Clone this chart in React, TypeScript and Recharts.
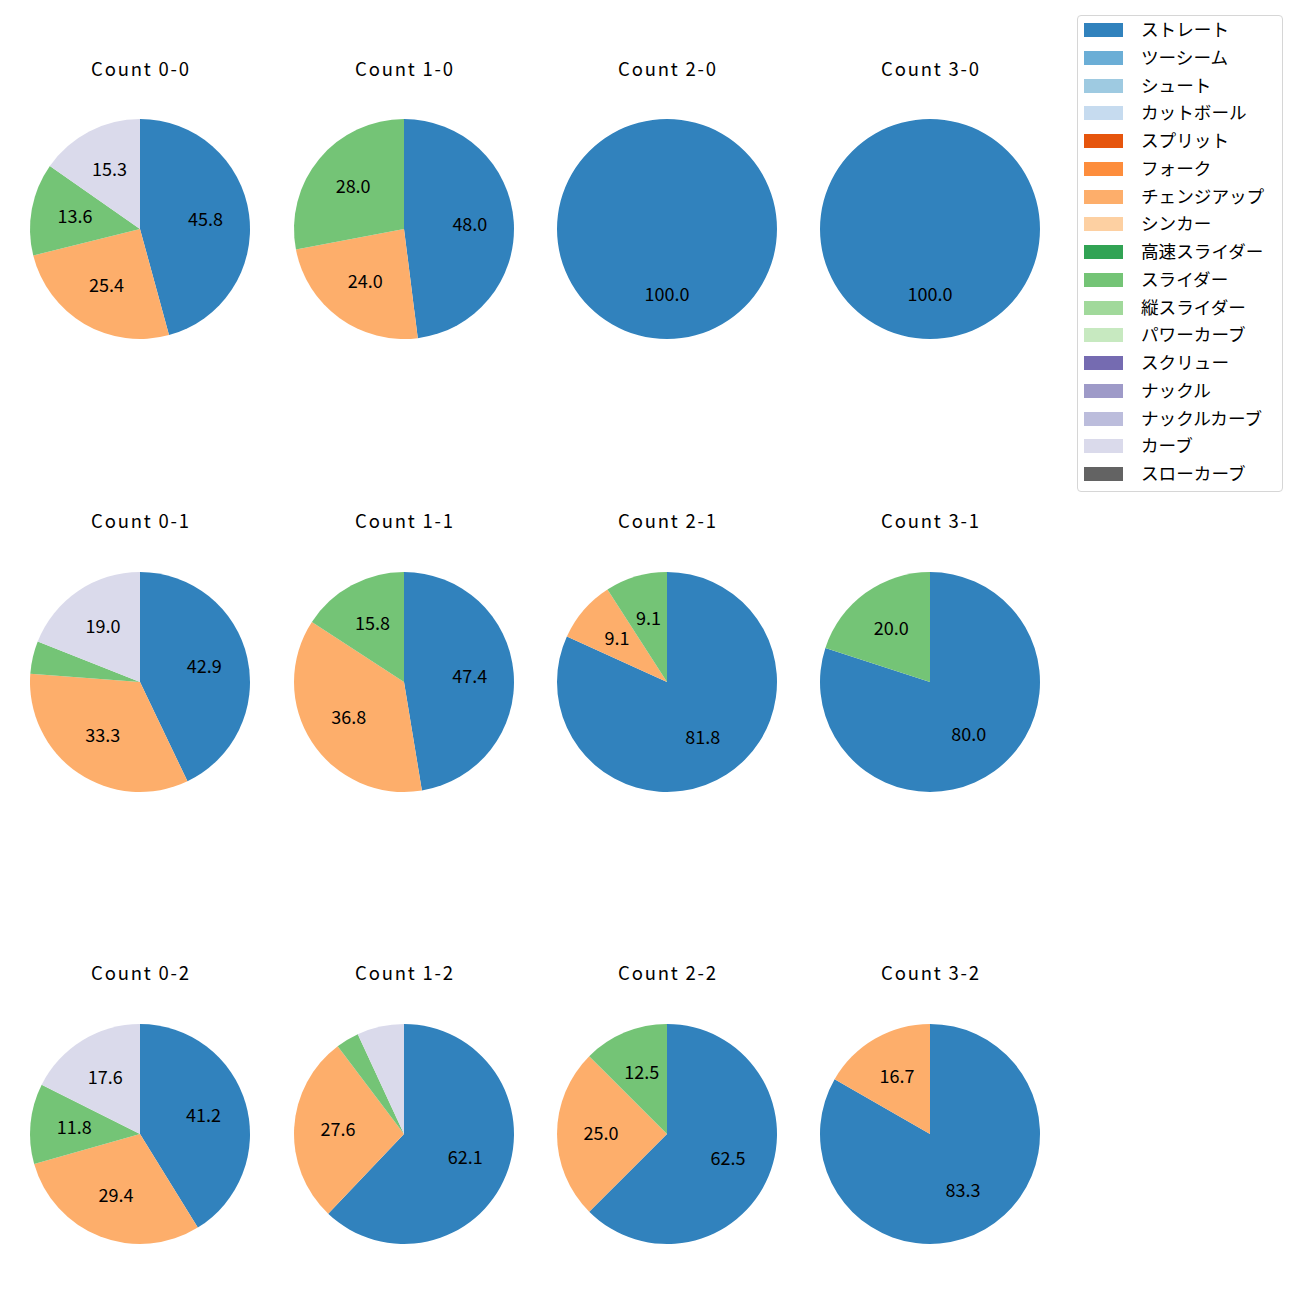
import React from "react";
import { PieChart, Pie, Cell } from "recharts";

const pitchTypes = [
  "ストレート", "ツーシーム", "シュート", "カットボール", "スプリット", "フォーク",
  "チェンジアップ", "シンカー", "高速スライダー", "スライダー", "縦スライダー",
  "パワーカーブ", "スクリュー", "ナックル", "ナックルカーブ", "カーブ", "スローカーブ",
];
const pitchColors = [
  "#3182bd", "#6baed6", "#9ecae1", "#c6dbef", "#e6550d", "#fd8d3c",
  "#fdae6b", "#fdd0a2", "#31a354", "#74c476", "#a1d99b",
  "#c7e9c0", "#756bb1", "#9e9ac8", "#bcbddc", "#dadaeb", "#636363",
];

// pitch order inside each pie (clockwise from 12 o'clock)
const pieOrder = ["ストレート", "チェンジアップ", "スライダー", "カーブ"];

const counts = [
  "0-0", "1-0", "2-0", "3-0",
  "0-1", "1-1", "2-1", "3-1",
  "0-2", "1-2", "2-2", "3-2",
];

// percentages, same order as pieOrder
const shares: number[][] = [
  [45.8, 25.4, 13.6, 15.3],
  [48.0, 24.0, 28.0, 0],
  [100.0, 0, 0, 0],
  [100.0, 0, 0, 0],
  [42.9, 33.3, 4.8, 19.0],
  [47.4, 36.8, 15.8, 0],
  [81.8, 9.1, 9.1, 0],
  [80.0, 0, 20.0, 0],
  [41.2, 29.4, 11.8, 17.6],
  [62.1, 27.6, 3.4, 6.9],
  [62.5, 25.0, 12.5, 0],
  [83.3, 16.7, 0, 0],
];

const colX = [140, 404, 667, 930];
const rowY = [229, 682, 1134];
const titleY = [68, 520, 972];
const R = 110;
const FONT = "'Noto Sans CJK JP', 'Noto Sans', sans-serif";

const colorOf = (name: string) => pitchColors[pitchTypes.indexOf(name)];

const renderLabel = (p: any) => {
  if (p.value < 8) return null;
  const rad = Math.PI / 180;
  const r = p.outerRadius * 0.6;
  const x = p.cx + r * Math.cos(-p.midAngle * rad);
  const y = p.cy + r * Math.sin(-p.midAngle * rad) - 2;
  return (
    <text x={x} y={y} textAnchor="middle" dominantBaseline="central" fill="#000" fontSize={18} fontFamily={FONT}>
      {p.value.toFixed(1)}
    </text>
  );
};

export default function App() {
  return (
    <div style={{ position: "absolute", left: 0, top: 0, width: 1300, height: 1300, background: "#fff", fontFamily: FONT }}>
      <PieChart
        width={1300}
        height={1300}
        margin={{ top: 0, right: 0, bottom: 0, left: 0 }}
        style={{ position: "absolute", left: 0, top: 0 }}
      >
        {shares.map((vals, i) => {
          const data = pieOrder
            .map((name, k) => ({ name, value: vals[k] }))
            .filter((d) => d.value > 0);
          return (
            <Pie
              key={counts[i]}
              data={data}
              dataKey="value"
              cx={colX[i % 4]}
              cy={rowY[Math.floor(i / 4)]}
              outerRadius={R}
              startAngle={90}
              endAngle={-270}
              stroke="none"
              label={renderLabel}
              labelLine={false}
              isAnimationActive={false}
            >
              {data.map((d) => (
                <Cell key={d.name} fill={colorOf(d.name)} />
              ))}
            </Pie>
          );
        })}
      </PieChart>
      {counts.map((c, i) => (
        <div
          key={c}
          style={{
            position: "absolute",
            left: colX[i % 4] - 100 + 1,
            width: 200,
            top: titleY[Math.floor(i / 4)] - 13,
            height: 26,
            lineHeight: "26px",
            textAlign: "center",
            fontSize: 18.5,
            letterSpacing: 1.8,
          }}
        >
          Count {c}
        </div>
      ))}
      <div
        style={{
          position: "absolute",
          left: 1077,
          top: 15,
          width: 206,
          height: 477,
          border: "1px solid #d6d6d6",
          borderRadius: 4,
          boxSizing: "border-box",
        }}
      >
        {pitchTypes.map((name, i) => (
          <div key={name} style={{ position: "absolute", left: 0, top: i * 27.75, height: 28, width: 204 }}>
            <div style={{ position: "absolute", left: 6, top: 7, width: 39, height: 14, background: pitchColors[i] }} />
            <div style={{ position: "absolute", left: 63, top: -1, lineHeight: "28px", fontSize: 17.6, whiteSpace: "nowrap" }}>
              {name}
            </div>
          </div>
        ))}
      </div>
    </div>
  );
}
